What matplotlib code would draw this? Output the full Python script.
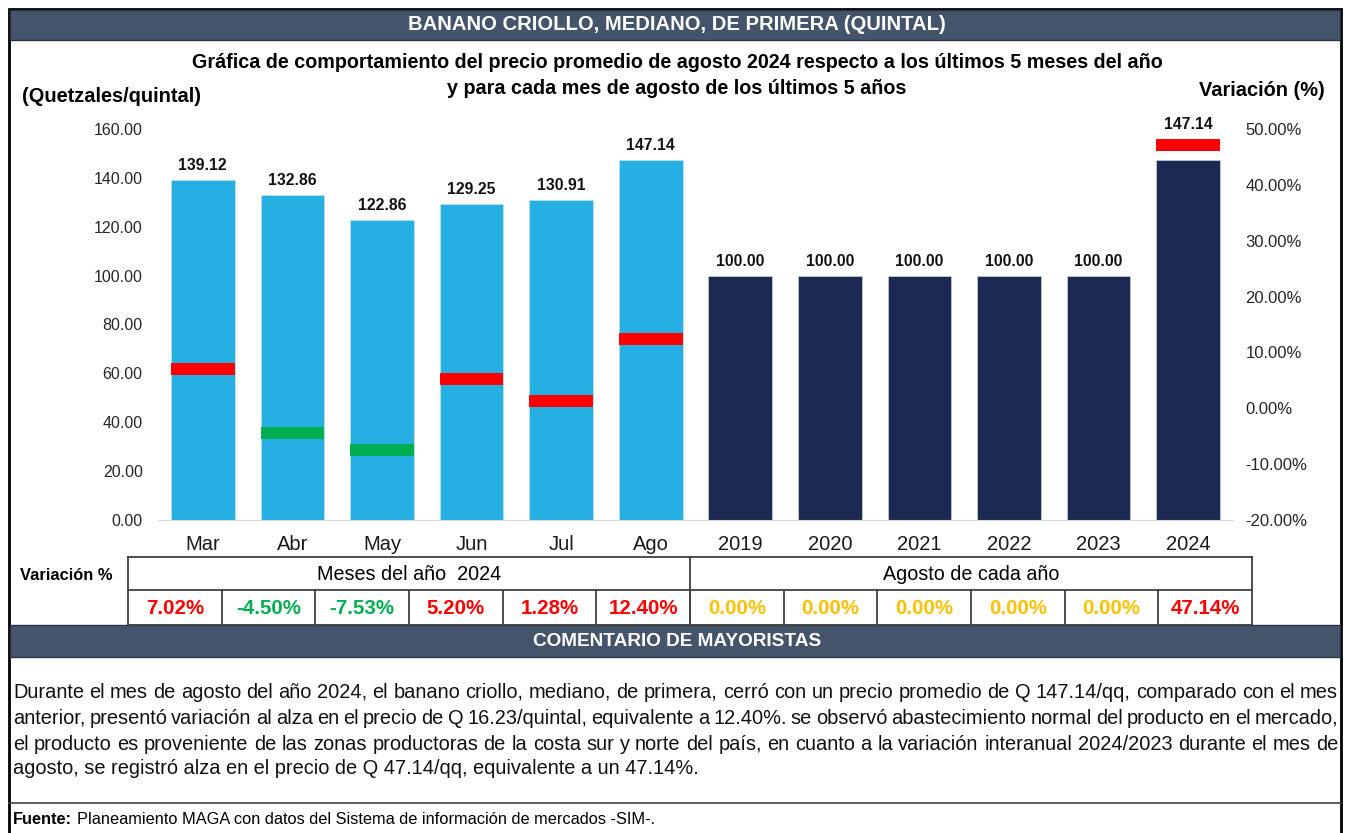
import matplotlib
matplotlib.use("Agg")
import matplotlib.pyplot as plt
from matplotlib.patches import Rectangle
from matplotlib.lines import Line2D

plt.rcParams['font.family'] = ['Liberation Sans', 'DejaVu Sans']

# data
categories = ['Mar', 'Abr', 'May', 'Jun', 'Jul', 'Ago',
              '2019', '2020', '2021', '2022', '2023', '2024']
prices = [139.12, 132.86, 122.86, 129.25, 130.91, 147.14,
          100.00, 100.00, 100.00, 100.00, 100.00, 147.14]
variation = [7.02, -4.50, -7.53, 5.20, 1.28, 12.40,
             0.00, 0.00, 0.00, 0.00, 0.00, 47.14]
left_ticks = [0, 20, 40, 60, 80, 100, 120, 140, 160]
right_ticks = [-20, -10, 0, 10, 20, 30, 40, 50]

comment_lines = [
    "Durante el mes de agosto del año 2024, el banano criollo, mediano, de primera, cerró con un precio promedio de Q 147.14/qq, comparado con el mes",
    "anterior, presentó variación al alza en el precio de Q 16.23/quintal, equivalente a 12.40%. se observó abastecimiento normal del producto en el mercado,",
    "el producto es proveniente de las zonas productoras de la costa sur y norte del país, en cuanto a la variación interanual 2024/2023 durante el mes de",
    "agosto, se registró alza en el precio de Q 47.14/qq, equivalente a un 47.14%.",
]

W, H = 1348, 833
HEADER = '#44546A'
LIGHT = '#25AFE3'
NAVY = '#1C2953'
RED = '#FF0000'
GREEN = '#00B050'
ORANGE = '#FFC000'


def fx(x):
    return x / W


def fy(y):
    return 1 - y / H


def box(x0, y0, x1, y1, fc='none', ec='none', lw=1.0):
    fig.add_artist(Rectangle((fx(x0), fy(y1)), fx(x1) - fx(x0), fy(y0) - fy(y1),
                             transform=fig.transFigure, facecolor=fc,
                             edgecolor=ec, linewidth=lw))


def hline(x0, x1, y, color='black', lw=1.0):
    fig.add_artist(Line2D([fx(x0), fx(x1)], [fy(y), fy(y)], transform=fig.transFigure,
                          color=color, linewidth=lw))


def vline(x, y0, y1, color='black', lw=1.0):
    fig.add_artist(Line2D([fx(x), fx(x)], [fy(y0), fy(y1)], transform=fig.transFigure,
                          color=color, linewidth=lw))


fig = plt.figure(figsize=(13.48, 8.33), dpi=100)

# outer frame and header bars
box(9, 9, 1341, 840, ec='black', lw=2)
box(10, 10, 1340, 40, fc=HEADER, ec='#2b3545', lw=1)
fig.text(fx(677), fy(25), 'BANANO CRIOLLO, MEDIANO, DE PRIMERA (QUINTAL)', color='white',
         fontsize=14.6, fontweight='bold', ha='center', va='center')

fig.text(fx(677), fy(63), 'Gráfica de comportamiento del precio promedio de agosto 2024 respecto a los últimos 5 meses del año',
         fontsize=14.2, fontweight='bold', ha='center', va='center')
fig.text(fx(677), fy(88), 'y para cada mes de agosto de los últimos 5 años',
         fontsize=14.2, fontweight='bold', ha='center', va='center')
fig.text(fx(22), fy(96), '(Quetzales/quintal)', fontsize=14.4, fontweight='bold', va='center')
fig.text(fx(1325), fy(91), 'Variación (%)', fontsize=14.4, fontweight='bold', va='center', ha='right')

# chart
ax = fig.add_axes([fx(158), fy(520), fx(1233) - fx(158), fy(129) - fy(520)])
ax2 = ax.twinx()
x = list(range(len(categories)))
colors = [LIGHT] * 6 + [NAVY] * 6
ax.bar(x, prices, width=0.71, color=colors, edgecolor='#d0e4f0', linewidth=0.4)
ax.set_xlim(-0.5, len(categories) - 0.5)
ax.set_ylim(0, 160)
ax.set_yticks(left_ticks)
ax.set_yticklabels([f'{v:.2f}' for v in left_ticks])
ax.set_xticks(x)
ax.set_xticklabels(categories)
ax.tick_params(axis='y', length=0, pad=11, labelsize=11.5, labelcolor='#262626')
ax.tick_params(axis='x', length=0, pad=11, labelsize=14.5, labelcolor='#1a1a1a')

ax2.set_ylim(-20, 50)
ax2.set_yticks(right_ticks)
ax2.set_yticklabels([f'{v:.2f}%' for v in right_ticks])
ax2.tick_params(axis='y', length=0, pad=9, labelsize=12, labelcolor='#262626')

for a in (ax, ax2):
    for s in a.spines.values():
        s.set_visible(False)
ax.spines['bottom'].set_visible(True)
ax.spines['bottom'].set_color('#D9D9D9')

mark_h = 2.15
for i, v in enumerate(variation):
    if v == 0:
        continue
    ax2.bar(i, mark_h, bottom=v - mark_h / 2, width=0.71,
            color=RED if v > 0 else GREEN, linewidth=0)

# data labels
for i, p in enumerate(prices):
    top = p
    if variation[i] != 0:
        mtop = (variation[i] + mark_h / 2 + 20) / 70 * 160
        top = max(top, mtop)
    ax.annotate(f'{p:.2f}', (i, top), xytext=(0, 5), textcoords='offset points',
                ha='center', va='bottom', fontsize=11.3, fontweight='bold', color='#111111')

# variation table
fig.text(fx(20), fy(575), 'Variación %', fontsize=11.9, fontweight='bold', va='center')
tx0, tx1 = 128, 1252
cw = (tx1 - tx0) / len(categories)
hline(tx0, tx1, 557, '#404040', 1.3)
hline(tx0, tx1, 590, '#404040', 1.3)
hline(tx0, tx1, 625, '#404040', 1.3)
vline(tx0, 557, 625, '#404040', 1.3)
vline(tx1, 557, 625, '#404040', 1.3)
vline(tx0 + 6 * cw, 557, 625, '#404040', 1.3)
for i in range(1, len(categories)):
    vline(tx0 + i * cw, 590, 625, '#404040', 1.3)
fig.text(fx(tx0 + 3 * cw), fy(574), 'Meses del año  2024', fontsize=14.2, ha='center', va='center')
fig.text(fx(tx0 + 9 * cw), fy(574), 'Agosto de cada año', fontsize=14.2, ha='center', va='center')
for i, v in enumerate(variation):
    c = ORANGE if v == 0 else (RED if v > 0 else GREEN)
    fig.text(fx(tx0 + (i + 0.5) * cw), fy(608), f'{v:.2f}%', fontsize=14.8, fontweight='bold',
             color=c, ha='center', va='center')

# comment header
box(10, 625, 1340, 657, fc=HEADER, ec='#2b3545', lw=1)
fig.text(fx(677), fy(641), 'COMENTARIO DE MAYORISTAS', color='white',
         fontsize=13.7, fontweight='bold', ha='center', va='center')

# justified comment text
renderer = fig.canvas.get_renderer()
cx0, cx1 = 13, 1338
line_y = [692, 718, 744, 769]
csize = 14.4
for k, line in enumerate(comment_lines):
    if k == len(comment_lines) - 1:
        fig.text(fx(cx0), fy(line_y[k]), line, fontsize=csize, va='center', color='#111111')
        continue
    words = line.split()
    widths = []
    for w in words:
        t = fig.text(0, 0, w, fontsize=csize)
        widths.append(t.get_window_extent(renderer).width)
        t.remove()
    gap = (cx1 - cx0 - sum(widths)) / (len(words) - 1)
    xp = cx0
    for w, wd in zip(words, widths):
        fig.text(fx(xp), fy(line_y[k]), w, fontsize=csize, va='center', color='#111111')
        xp += wd + gap

hline(9, 1341, 803, '#404040', 1.2)
fig.text(fx(13), fy(820), 'Fuente:', fontsize=11.8, fontweight='bold', va='center')
fig.text(fx(77), fy(820), 'Planeamiento MAGA con datos del Sistema de información de mercados -SIM-.',
         fontsize=11.8, va='center')

fig.savefig('out.png', dpi=100)
